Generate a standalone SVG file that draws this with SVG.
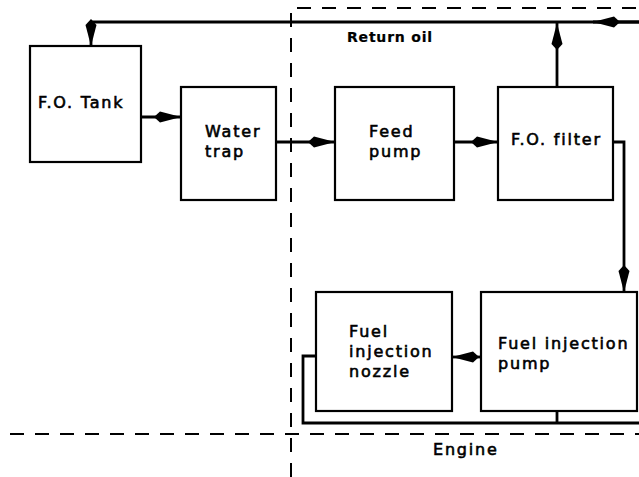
<svg xmlns="http://www.w3.org/2000/svg" width="639" height="477" viewBox="0 0 639 477">
<style>
  .box { fill: #fff; stroke: #000; stroke-width: 2.2; }
  .line { fill: none; stroke: #000; stroke-width: 2.8; }
  .dash { fill: none; stroke: #000; stroke-width: 2; stroke-dasharray: 14 11; }
  .lbl { font-family: "DejaVu Sans", "Liberation Sans", sans-serif; font-size: 16px; letter-spacing: 1.8px; fill: #000; stroke: #000; stroke-width: 0.6px; }
  .bold { font-weight: bold; font-size: 14px; letter-spacing: 0.8px; stroke-width: 0.2px; }
</style>
<defs>
  <marker id="ah" markerUnits="userSpaceOnUse" markerWidth="32" markerHeight="16" viewBox="-30 -8 32 16" refX="0" refY="0" orient="auto">
    <path d="M0,0 L-21,-5.5 L-27,0 L-21,5.5 Z" fill="#000"/>
  </marker>
</defs>
<rect width="639" height="477" fill="#fff"/>

<g id="boundaries">
  <path class="dash" d="M291,477 V8 H639"/>
  <path class="dash" d="M10,434 H639"/>
</g>

<g id="connectors">
  <path class="line" d="M639,22 H91"/>
  <path class="line" d="M639,22 H593" marker-end="url(#ah)"/>
  <path class="line" d="M91,22 V46" marker-end="url(#ah)"/>
  <path class="line" d="M557,87 V23" marker-end="url(#ah)"/>
  <path class="line" d="M141,117 H181" marker-end="url(#ah)"/>
  <path class="line" d="M276,142 H335" marker-end="url(#ah)"/>
  <path class="line" d="M454,142 H498" marker-end="url(#ah)"/>
  <path class="line" d="M613,142 H624 V292" marker-end="url(#ah)"/>
  <path class="line" d="M481,357 H452" marker-end="url(#ah)"/>
  <path class="line" d="M316,356 H303 V423 H639"/>
  <path class="line" d="M557,411 V423"/>
</g>

<g id="fo-tank">
  <rect class="box" x="30" y="46" width="111" height="116"/>
  <text class="lbl" x="38" y="108">F.O. Tank</text>
</g>
<g id="water-trap">
  <rect class="box" x="181" y="87" width="95" height="113"/>
  <text class="lbl" x="205" y="137">Water</text>
  <text class="lbl" x="205" y="157">trap</text>
</g>
<g id="feed-pump">
  <rect class="box" x="335" y="87" width="119" height="113"/>
  <text class="lbl" x="369" y="137">Feed</text>
  <text class="lbl" x="369" y="157">pump</text>
</g>
<g id="fo-filter">
  <rect class="box" x="498" y="87" width="115" height="113"/>
  <text class="lbl" x="511" y="145">F.O. filter</text>
</g>
<g id="fuel-injection-pump">
  <rect class="box" x="481" y="292" width="156" height="119"/>
  <text class="lbl" x="498" y="349">Fuel injection</text>
  <text class="lbl" x="498" y="369">pump</text>
</g>
<g id="fuel-injection-nozzle">
  <rect class="box" x="316" y="292" width="136" height="119"/>
  <text class="lbl" x="349" y="337">Fuel</text>
  <text class="lbl" x="349" y="357">injection</text>
  <text class="lbl" x="349" y="377">nozzle</text>
</g>
<g id="labels">
  <text class="lbl bold" x="347" y="42">Return oil</text>
  <text class="lbl" x="433" y="455">Engine</text>
</g>
</svg>
